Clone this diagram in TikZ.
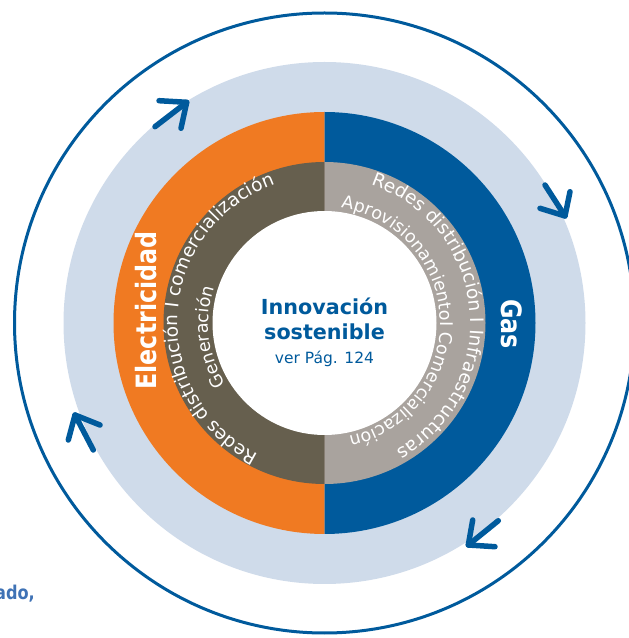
\documentclass[tikz,border=0pt]{standalone}
\usepackage{fontspec}
\usepackage{graphicx}
\setmainfont{DejaVu Sans}
\usetikzlibrary{decorations.text,calc}
\definecolor{ibblue}{HTML}{005A9C}
\definecolor{iborange}{HTML}{F07A22}
\definecolor{ibband}{HTML}{CFDBEA}
\definecolor{ibdark}{HTML}{665F4E}
\definecolor{ibgray}{HTML}{A9A39E}
\definecolor{ibtext}{HTML}{3F72B5}
\newcommand\ringfont{\fontsize{18.5}{20}\selectfont}
\newcommand\innerfont{\fontsize{17.5}{19}\selectfont}
\begin{document}
\begin{tikzpicture}[x=1pt,y=1pt,
  cyclearrow/.style={draw=ibblue, line width=5.5pt, line cap=round, line join=round},
  ringtext/.style={decorate, decoration={text along path, text align=center, text color=white, text={#1}}},
  bigtitle/.style={text=white, font=\bfseries\fontsize{28}{30}\selectfont, inner sep=0pt},
  centre/.style={text=ibblue, anchor=base, inner sep=0pt}
]
\useasboundingbox (0,0) rectangle (629,638);
\coordinate (C) at (324.5,315);
% outer ring
\draw[ibblue, line width=3pt] (C) circle[radius=310];
\fill[ibband] (C) circle[radius=261];
% halves
\fill[iborange] ($(C)+(0,211)$) arc[start angle=90, end angle=270, radius=211] -- cycle;
\fill[ibblue] ($(C)+(0,-211)$) arc[start angle=-90, end angle=90, radius=211] -- cycle;
\fill[ibdark] ($(C)+(0,161)$) arc[start angle=90, end angle=270, radius=161] -- cycle;
\fill[ibgray] ($(C)+(0,-161)$) arc[start angle=-90, end angle=90, radius=161] -- cycle;
\fill[white] (C) circle[radius=112];
% ring texts
\path[ringtext={|\ringfont|Redes distribución I comercialización}]
  ($(C)+(266.5:147)$) arc[start angle=266.5, end angle=86.5, radius=147];
\path[ringtext={|\innerfont|Generación}]
  ($(C)+(277:116)$) arc[start angle=277, end angle=97, radius=116];
\path[ringtext={|\ringfont|Redes distribución I Infraestructuras}]
  ($(C)+(95.5:146)$) arc[start angle=95.5, end angle=-84.5, radius=146];
\path[ringtext={|\innerfont|AprovisionamientoI Comercialización}]
  ($(C)+(92:116)$) arc[start angle=92, end angle=-88, radius=116];
% labels
\node[bigtitle, rotate=90, anchor=base] (elec) at (156.7,327.5) {\scalebox{0.85}[1]{Electricidad}};
\node[bigtitle, rotate=-90, anchor=base] (gas) at (501.7,314) {\scalebox{0.85}[1]{Gas}};
\node[centre, font=\bfseries\fontsize{20.7}{24}\selectfont] (inno) at (324.5,323.7) {Innovación};
\node[centre, font=\bfseries\fontsize{20.7}{24}\selectfont] (sost) at (324.5,298) {sostenible};
\node[centre, font=\fontsize{15.5}{18}\selectfont] (ver) at (324.5,274) {ver Pág. 124};
\node[anchor=base east, inner sep=0pt, text=ibtext, font=\bfseries\fontsize{19}{21}\selectfont] (ado) at (35,38) {\scalebox{0.85}[1]{ado,}};
% cycle arrows
\draw[cyclearrow] (155,511.3) -- (186.7,535.7);
\draw[cyclearrow] (159,537.3) -- (186.7,535.7) -- (181,509.7);
\draw[cyclearrow] (545,453) -- (565,422);
\draw[cyclearrow] (540,429.7) -- (565,422) -- (570,446.3);
\draw[cyclearrow] (498.3,117.3) -- (468.3,93);
\draw[cyclearrow] (472.7,118) -- (468.3,93) -- (495,91.3);
\draw[cyclearrow] (93.3,188) -- (75,223);
\draw[cyclearrow] (68.3,198) -- (75,223) -- (100,213);
\end{tikzpicture}
\end{document}
